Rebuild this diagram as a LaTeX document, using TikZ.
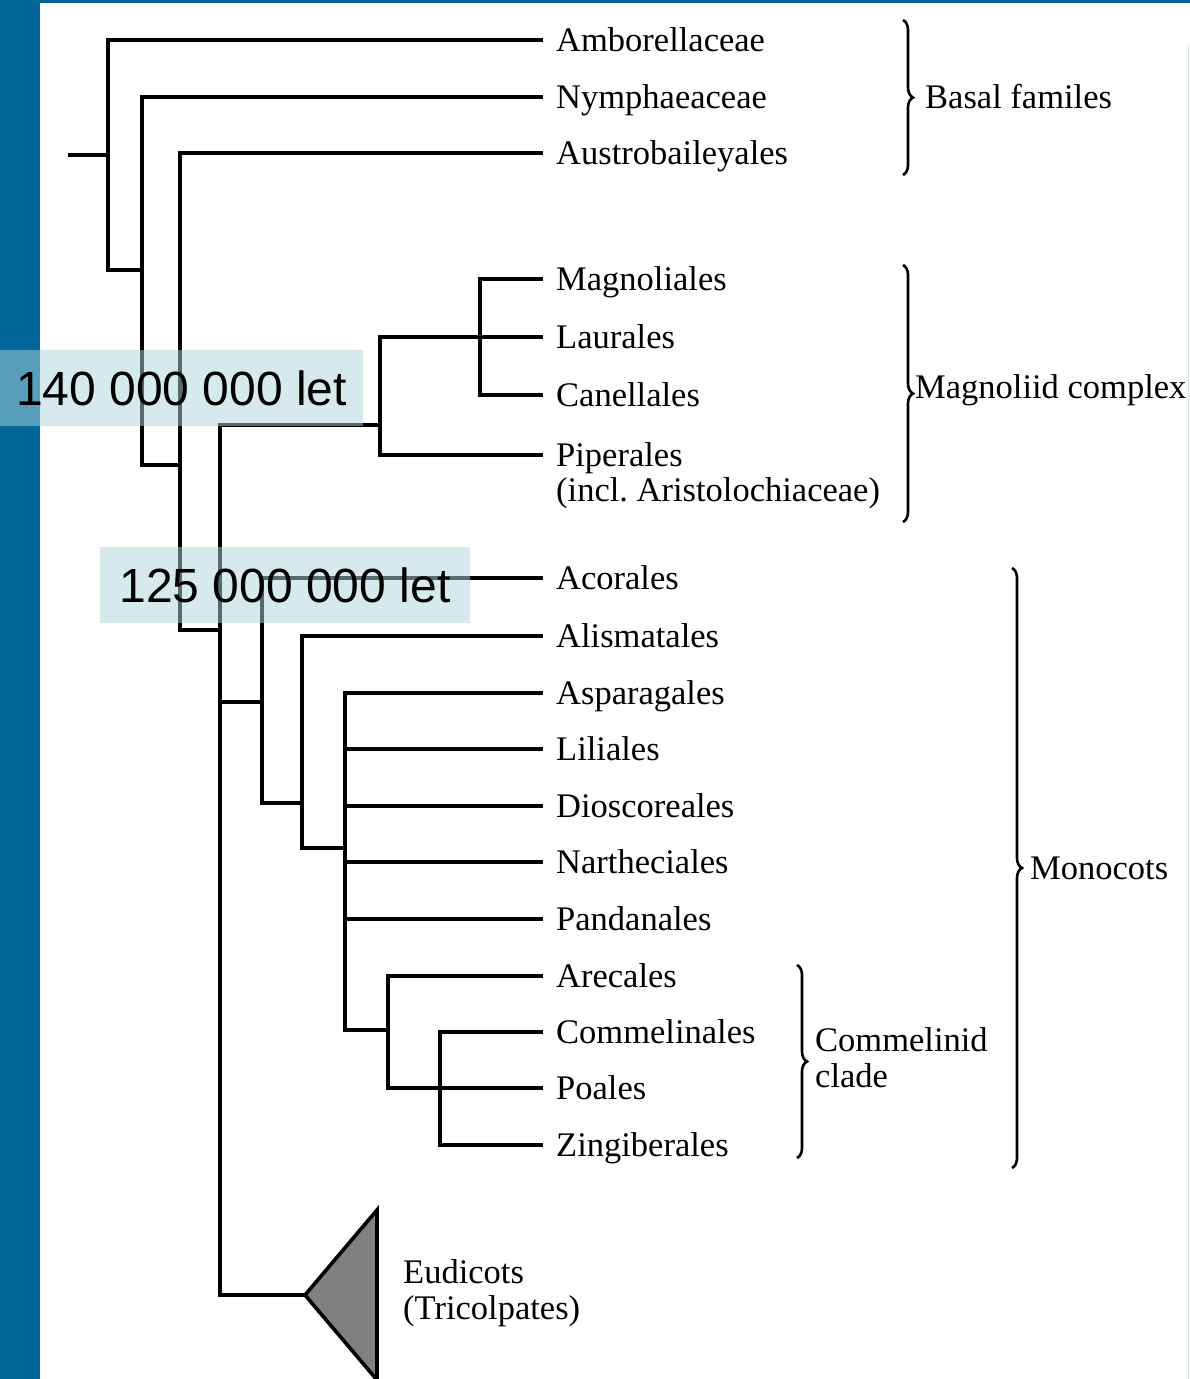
\documentclass[tikz,border=0pt]{standalone}
\usepackage{fontspec}
\setmainfont{Liberation Serif}
\newfontfamily\datefont{Liberation Sans}
\usetikzlibrary{positioning, decorations.pathreplacing}
\definecolor{barblue}{RGB}{0,102,153}
\definecolor{datebox}{RGB}{175,215,222}
\definecolor{edgeblue}{RGB}{205,228,234}

\begin{document}
\begin{tikzpicture}[
        x=1pt, y=-1pt,
        branch/.style={line width=3.6pt},
        leaf/.style={anchor=base west, xshift=13pt, yshift=-11pt, inner sep=0pt, font=\fontsize{34.5}{35}\selectfont},
        group/.style={anchor=west, align=left, inner sep=0pt, font=\fontsize{34.5}{36}\selectfont},
        brace/.style={decorate, decoration={brace, amplitude=10pt}, line width=2.6pt},
        datelbl/.style={fill=datebox, fill opacity=0.5, text opacity=1, inner sep=0pt, minimum height=76pt, font=\datefont\fontsize{48}{50}\selectfont}
    ]

    % ========================================================
    % 0. FRAME
    % ========================================================
    \clip (0,0) rectangle (1190,1379);
    \fill[white] (0,0) rectangle (1190,1379);
    \fill[barblue] (0,0) rectangle (40,1379);
    \fill[barblue] (0,0) rectangle (1190,3);
    \draw[edgeblue, line width=1.5pt] (1188.5,45) -- (1188.5,1379);

    % ========================================================
    % 1. LEAVES (line ends and names)
    % ========================================================
    \coordinate (amb) at (543,40);
    \coordinate (nym) at (543,97);
    \coordinate (aus) at (543,153);
    \coordinate (mgn) at (543,279);
    \coordinate (lau) at (543,337);
    \coordinate (can) at (543,395);
    \coordinate (pip) at (543,455);
    \coordinate (aco) at (543,578);
    \coordinate (ali) at (543,636);
    \coordinate (asp) at (543,693);
    \coordinate (lil) at (543,749);
    \coordinate (dio) at (543,806);
    \coordinate (nar) at (543,862);
    \coordinate (pan) at (543,919);
    \coordinate (are) at (543,976);
    \coordinate (cml) at (543,1032);
    \coordinate (poa) at (543,1088);
    \coordinate (zin) at (543,1145);

    \node[leaf] (amb-l) at (amb) {Amborellaceae};
    \node[leaf] (nym-l) at (nym) {Nymphaeaceae};
    \node[leaf] (aus-l) at (aus) {Austrobaileyales};
    \node[leaf] (mgn-l) at (mgn) {Magnoliales};
    \node[leaf] (lau-l) at (lau) {Laurales};
    \node[leaf] (can-l) at (can) {Canellales};
    \node[leaf] (pip-l) at (pip) {Piperales};
    \node[anchor=base west, inner sep=0pt, font=\fontsize{34.5}{35}\selectfont, yshift=-35pt] (pip-l2) at (pip-l.base west) {(incl.\ Aristolochiaceae)};
    \node[leaf] (aco-l) at (aco) {Acorales};
    \node[leaf] (ali-l) at (ali) {Alismatales};
    \node[leaf] (asp-l) at (asp) {Asparagales};
    \node[leaf] (lil-l) at (lil) {Liliales};
    \node[leaf] (dio-l) at (dio) {Dioscoreales};
    \node[leaf] (nar-l) at (nar) {Nartheciales};
    \node[leaf] (pan-l) at (pan) {Pandanales};
    \node[leaf] (are-l) at (are) {Arecales};
    \node[leaf] (cml-l) at (cml) {Commelinales};
    \node[leaf] (poa-l) at (poa) {Poales};
    \node[leaf] (zin-l) at (zin) {Zingiberales};

    % ========================================================
    % 2. INNER NODES AND BRANCHES
    % ========================================================
    \coordinate (root) at (68,155);
    \coordinate (n1) at (108,155);
    \coordinate (n2) at (142,270);
    \coordinate (n3) at (180,465);
    \coordinate (n4) at (220,630);
    \coordinate (mag) at (380,425);
    \coordinate (mlc) at (480,337);
    \coordinate (mono) at (262,702);
    \coordinate (m2) at (302,803);
    \coordinate (m3) at (345,848);
    \coordinate (com) at (388,1030);
    \coordinate (c2) at (440,1088);
    \coordinate (eud) at (305,1295);
    \coordinate (eud-t) at (377,1210);
    \coordinate (eud-b) at (377,1380);

    \draw[branch] (root) -- (n1);
    \draw[branch] (n1) |- (amb);
    \draw[branch] (n1) |- (n2);
    \draw[branch] (n2) |- (nym);
    \draw[branch] (n2) |- (n3);
    \draw[branch] (n3) |- (aus);
    \draw[branch] (n3) |- (n4);
    \draw[branch] (n4) |- (mag);
    \draw[branch] (n4) |- (mono);
    \draw[branch] (n4) |- (eud);

    % Magnoliids
    \draw[branch] (mag) |- (mlc);
    \draw[branch] (mag) |- (pip);
    \draw[branch] (mlc) |- (mgn);
    \draw[branch] (mlc) -- (lau);
    \draw[branch] (mlc) |- (can);

    % Monocots
    \draw[branch] (mono) |- (aco);
    \draw[branch] (mono) |- (m2);
    \draw[branch] (m2) |- (ali);
    \draw[branch] (m2) |- (m3);
    \draw[branch] (m3) |- (asp);
    \draw[branch] (m3) |- (lil);
    \draw[branch] (m3) |- (dio);
    \draw[branch] (m3) |- (nar);
    \draw[branch] (m3) |- (pan);
    \draw[branch] (m3) |- (com);
    \draw[branch] (com) |- (are);
    \draw[branch] (com) |- (c2);
    \draw[branch] (c2) |- (cml);
    \draw[branch] (c2) -- (poa);
    \draw[branch] (c2) |- (zin);

    % Eudicots
    \filldraw[branch, fill=black!50] (eud) -- (eud-t) -- (eud-b) -- cycle;
    \node[group] (eud-l) at (403,1293) {Eudicots\\(Tricolpates)};

    % ========================================================
    % 3. BRACES
    % ========================================================
    \coordinate (bas-t) at (903,20);
    \coordinate (bas-b) at (903,175);
    \coordinate (mgc-t) at (903,265);
    \coordinate (mgc-b) at (903,522);
    \coordinate (mon-t) at (1012,568);
    \coordinate (mon-b) at (1012,1168);
    \coordinate (cmc-t) at (797,965);
    \coordinate (cmc-b) at (797,1158);

    \draw[brace] (bas-t) -- (bas-b);
    \draw[brace] (mgc-t) -- (mgc-b);
    \draw[brace] (mon-t) -- (mon-b);
    \draw[brace] (cmc-t) -- (cmc-b);

    \node[group] (bas-l) at (925,97) {Basal familes};
    \node[group] (mgc-l) at (915,390) {Magnoliid complex};
    \node[group] (mon-l) at (1030,868) {Monocots};
    \node[group] (cmc-l) at (815,1058) {Commelinid\\clade};

    % ========================================================
    % 4. DATES
    % ========================================================
    \node[datelbl, minimum width=363pt] (d140) at (181.5,388) {140 000 000 let};
    \node[datelbl, minimum width=370pt] (d125) at (285,585) {125 000 000 let};

\end{tikzpicture}
\end{document}
